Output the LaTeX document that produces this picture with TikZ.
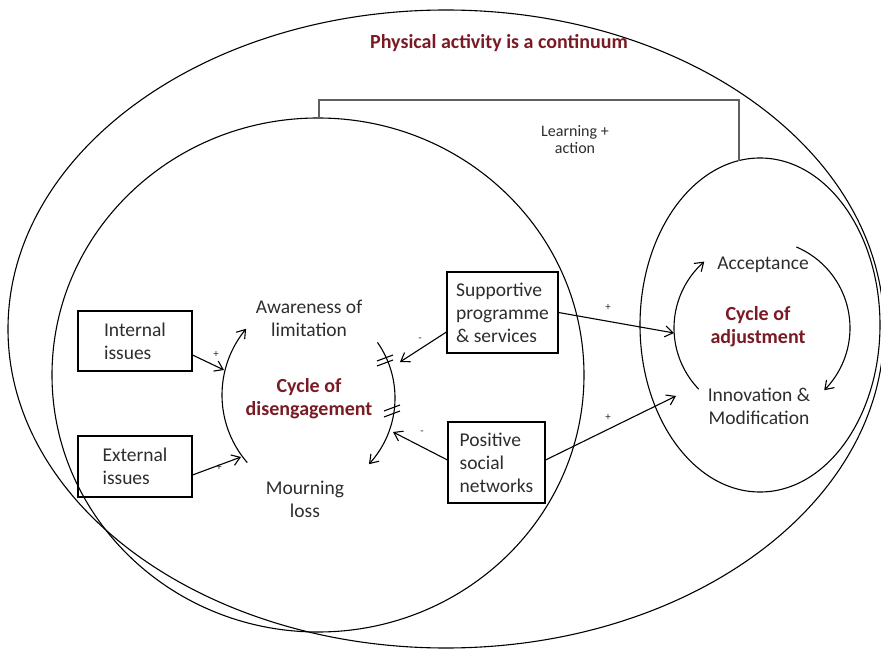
\documentclass[tikz,border=0pt]{standalone}
\usepackage{fontspec}
\setmainfont{Carlito}
\usetikzlibrary{arrows.meta}
\definecolor{dred}{RGB}{122,26,36}
\definecolor{txt}{RGB}{45,45,45}
\definecolor{brk}{RGB}{95,95,95}
\begin{document}
\begin{tikzpicture}[x=1pt,y=-1pt,
  line/.style={line width=1.1pt, black},
  arr/.style={line, -{Straight Barb[length=8pt,width=11pt,line width=1.1pt]}},
  box/.style={draw, line width=1.1pt, align=left, inner sep=0pt, font=\fontsize{19.5}{23}\selectfont, text=txt},
  lbl/.style={align=center, font=\fontsize{19.5}{23}\selectfont, text=txt},
  cyc/.style={align=center, font=\fontsize{20}{23}\selectfont\bfseries, text=dred},
  sgn/.style={font=\fontsize{11}{11}\selectfont, text=txt, inner sep=0pt}
]
\useasboundingbox (0,0) rectangle (881,652);
% ellipses
\draw[line] (446,329) ellipse[x radius=438pt, y radius=319pt];
\draw[line] (318,375) ellipse[x radius=266pt, y radius=257pt];
\draw[line] (760,325) ellipse[x radius=120pt, y radius=167pt];
% bracket
\coordinate (bl) at (319,118);
\coordinate (br) at (739,161);
\draw[brk, line width=1.8pt] (bl) -- (319,100) -- (739,100) -- (br);
% title and texts
\node[font=\fontsize{20}{24}\selectfont\bfseries, text=dred] (title) at (499,43) {Physical activity is a continuum};
\node[font=\fontsize{16}{17}\selectfont, text=txt, align=center] (learn) at (575,140) {Learning +\\action};
\node[lbl] (aware) at (309,318.5) {Awareness of\\limitation};
\node[cyc] (cdis) at (309,398.5) {Cycle of\\disengagement};
\node[lbl] (mourn) at (305,499.5) {Mourning\\loss};
\node[lbl] (accept) at (763,265) {Acceptance};
\node[cyc] (cadj) at (758,326.5) {Cycle of\\adjustment};
\node[lbl] (innov) at (759,406.5) {Innovation \&\\Modification};
% boxes
\node[box, minimum width=114pt, minimum height=60pt] (int) at (135,341) {Internal\\issues};
\node[box, minimum width=114pt, minimum height=61pt] (ext) at (135,466.5) {External\\issues};
\node[box, minimum width=111pt, minimum height=81pt] (sup) at (502.5,312.5) {Supportive\\programme\\\& services};
\node[box, minimum width=97pt, minimum height=81pt] (pos) at (496.5,462.5) {Positive\\social\\networks};
% cycle of disengagement arcs
\draw[arr] plot[domain=139:220, samples=40, smooth] ({325+103*cos(\x)},{395+103*sin(\x)});
\draw[arr] plot[domain=-35:43, samples=40, smooth] ({298+97*cos(\x)},{398+97*sin(\x)});
\draw[line] (377,361) -- (393,355);
\draw[line] (377,366) -- (393,360);
\draw[line] (384,411) -- (400,405);
\draw[line] (384,417) -- (400,411);
% cycle of adjustment arcs
\draw[arr] plot[domain=136:229, samples=40, smooth] ({762+88*cos(\x)},{328+88*sin(\x)});
\draw[arr] plot[domain=-67:45, samples=40, smooth] ({762+88*cos(\x)},{328+88*sin(\x)});
% arrow ends
\coordinate (a1) at (224,370);
\coordinate (a2) at (241,457);
\coordinate (a3) at (400,362);
\coordinate (a4) at (393,432);
\coordinate (a5) at (674,333);
\coordinate (a6) at (676,396);
\draw[arr] ([yshift=-14pt]int.east) -- (a1);
\draw[arr] ([yshift=-8.5pt]ext.east) -- (a2);
\draw[arr] ([yshift=-19.5pt]sup.west) -- (a3);
\draw[arr] ([yshift=2.5pt]pos.west) -- (a4);
\draw[arr] (sup.east) -- (a5);
\draw[arr] ([yshift=2.5pt]pos.east) -- (a6);
% signs
\node[sgn] (s1) at (216,354) {+};
\node[sgn] (s2) at (219,467) {+};
\node[sgn] (s3) at (420,340) {-};
\node[sgn] (s4) at (422,433) {-};
\node[sgn] (s5) at (608,307) {+};
\node[sgn] (s6) at (608,417) {+};
\end{tikzpicture}
\end{document}
